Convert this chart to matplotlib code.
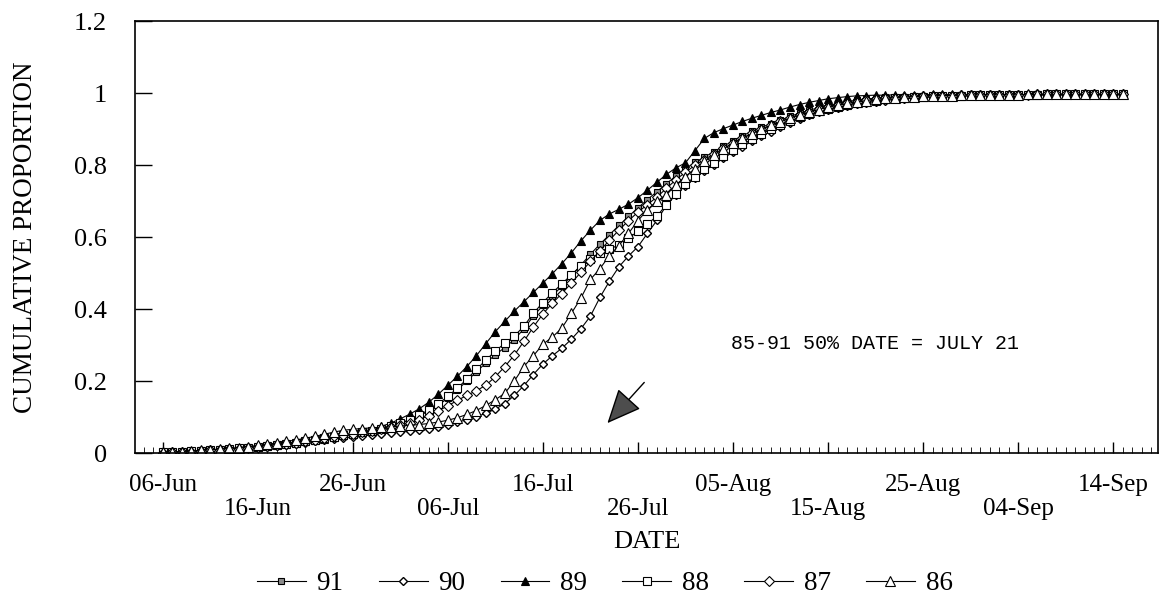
import numpy as np
import matplotlib
matplotlib.use("Agg")
import matplotlib.pyplot as plt
import matplotlib.dates as mdates
from datetime import datetime

plt.rcParams['font.family'] = ['Liberation Serif', 'DejaVu Serif']

# daily cumulative proportions, 06-Jun .. 15-Sep
start = np.datetime64('1991-06-06')
days = np.arange(start, np.datetime64('1991-09-16'))

y91 = [0.002, 0.003, 0.004, 0.005, 0.007, 0.008, 0.010, 0.012, 0.014, 0.016,
       0.018, 0.021, 0.024, 0.027, 0.030, 0.033, 0.036, 0.040, 0.044, 0.048,
       0.052, 0.056, 0.061, 0.067, 0.074, 0.082, 0.092, 0.103, 0.117, 0.133,
       0.152, 0.175, 0.200, 0.225, 0.250, 0.273, 0.293, 0.315, 0.345, 0.380,
       0.410, 0.437, 0.463, 0.492, 0.522, 0.552, 0.580, 0.606, 0.632, 0.657,
       0.681, 0.704, 0.726, 0.748, 0.770, 0.790, 0.807, 0.822, 0.837, 0.852,
       0.867, 0.881, 0.894, 0.905, 0.915, 0.925, 0.935, 0.944, 0.952, 0.959,
       0.965, 0.971, 0.976, 0.980, 0.983, 0.986, 0.988, 0.989, 0.990, 0.991,
       0.992, 0.992, 0.993, 0.993, 0.994, 0.994, 0.994, 0.995, 0.995, 0.995,
       0.995, 0.995, 0.996, 0.996, 0.996, 0.996, 0.996, 0.996, 0.996, 0.996, 0.996, 0.996]

y90 = [0.001, 0.002, 0.003, 0.004, 0.005, 0.006, 0.008, 0.009, 0.011, 0.013,
       0.015, 0.017, 0.020, 0.023, 0.026, 0.029, 0.032, 0.035, 0.038, 0.041,
       0.044, 0.047, 0.050, 0.053, 0.055, 0.058, 0.060, 0.063, 0.067, 0.072,
       0.078, 0.085, 0.093, 0.101, 0.110, 0.122, 0.137, 0.160, 0.187, 0.218,
       0.247, 0.270, 0.291, 0.316, 0.345, 0.380, 0.432, 0.477, 0.517, 0.547,
       0.573, 0.610, 0.646, 0.688, 0.718, 0.743, 0.764, 0.784, 0.801, 0.819,
       0.836, 0.851, 0.866, 0.880, 0.893, 0.905, 0.917, 0.928, 0.938, 0.946,
       0.953, 0.959, 0.964, 0.969, 0.973, 0.976, 0.979, 0.982, 0.984, 0.986,
       0.988, 0.989, 0.990, 0.991, 0.992, 0.992, 0.993, 0.993, 0.994, 0.994,
       0.994, 0.995, 0.995, 0.995, 0.995, 0.995, 0.995, 0.996, 0.996, 0.996, 0.996, 0.996]

y89 = [0.002, 0.003, 0.004, 0.005, 0.006, 0.008, 0.009, 0.011, 0.013, 0.015,
       0.017, 0.020, 0.023, 0.026, 0.029, 0.032, 0.036, 0.040, 0.044, 0.049,
       0.054, 0.060, 0.066, 0.074, 0.083, 0.095, 0.108, 0.123, 0.141, 0.163,
       0.188, 0.213, 0.240, 0.270, 0.304, 0.337, 0.366, 0.394, 0.420, 0.446,
       0.472, 0.498, 0.526, 0.556, 0.589, 0.619, 0.646, 0.664, 0.677, 0.691,
       0.709, 0.730, 0.752, 0.774, 0.792, 0.806, 0.840, 0.874, 0.890, 0.901,
       0.911, 0.921, 0.930, 0.938, 0.946, 0.953, 0.961, 0.968, 0.974, 0.979,
       0.984, 0.987, 0.990, 0.992, 0.993, 0.994, 0.994, 0.995, 0.995, 0.995,
       0.995, 0.996, 0.996, 0.996, 0.996, 0.996, 0.996, 0.996, 0.996, 0.996,
       0.996, 0.996, 0.996, 0.996, 0.996, 0.996, 0.996, 0.996, 0.996, 0.996, 0.996, 0.996]

y88 = [0.002, 0.003, 0.004, 0.005, 0.006, 0.007, 0.009, 0.011, 0.013, 0.015,
       0.017, 0.020, 0.023, 0.026, 0.029, 0.033, 0.037, 0.041, 0.045, 0.049,
       0.053, 0.057, 0.062, 0.068, 0.075, 0.083, 0.093, 0.105, 0.120, 0.137,
       0.157, 0.180, 0.205, 0.232, 0.258, 0.283, 0.305, 0.325, 0.352, 0.388,
       0.418, 0.445, 0.470, 0.495, 0.520, 0.540, 0.555, 0.566, 0.578, 0.596,
       0.616, 0.636, 0.658, 0.690, 0.720, 0.746, 0.768, 0.788, 0.806, 0.824,
       0.841, 0.857, 0.872, 0.886, 0.899, 0.911, 0.922, 0.932, 0.941, 0.949,
       0.956, 0.962, 0.967, 0.972, 0.976, 0.979, 0.982, 0.985, 0.987, 0.989,
       0.990, 0.991, 0.992, 0.993, 0.993, 0.994, 0.994, 0.994, 0.995, 0.995,
       0.995, 0.995, 0.995, 0.996, 0.996, 0.996, 0.996, 0.996, 0.996, 0.996, 0.996, 0.996]

y87 = [0.001, 0.002, 0.003, 0.004, 0.005, 0.007, 0.008, 0.010, 0.012, 0.014,
       0.016, 0.019, 0.022, 0.025, 0.029, 0.033, 0.037, 0.041, 0.046, 0.050,
       0.054, 0.058, 0.062, 0.066, 0.071, 0.077, 0.084, 0.093, 0.104, 0.117,
       0.131, 0.146, 0.160, 0.173, 0.188, 0.212, 0.240, 0.272, 0.310, 0.350,
       0.386, 0.416, 0.443, 0.472, 0.502, 0.532, 0.562, 0.591, 0.619, 0.645,
       0.669, 0.690, 0.711, 0.735, 0.759, 0.780, 0.799, 0.815, 0.831, 0.846,
       0.861, 0.875, 0.888, 0.900, 0.911, 0.921, 0.931, 0.940, 0.948, 0.955,
       0.962, 0.967, 0.972, 0.976, 0.980, 0.983, 0.985, 0.987, 0.989, 0.990,
       0.991, 0.992, 0.993, 0.993, 0.994, 0.994, 0.994, 0.995, 0.995, 0.995,
       0.995, 0.995, 0.996, 0.996, 0.996, 0.996, 0.996, 0.996, 0.996, 0.996, 0.996, 0.996]

y86 = [0.002, 0.003, 0.004, 0.005, 0.007, 0.009, 0.011, 0.013, 0.015, 0.018,
       0.021, 0.024, 0.028, 0.032, 0.036, 0.041, 0.046, 0.052, 0.058, 0.063,
       0.066, 0.068, 0.070, 0.071, 0.073, 0.075, 0.077, 0.079, 0.082, 0.086,
       0.091, 0.098, 0.107, 0.118, 0.132, 0.148, 0.166, 0.200, 0.240, 0.270,
       0.302, 0.322, 0.347, 0.388, 0.430, 0.482, 0.512, 0.548, 0.576, 0.610,
       0.645, 0.676, 0.700, 0.717, 0.745, 0.768, 0.790, 0.810, 0.828, 0.845,
       0.860, 0.874, 0.887, 0.899, 0.910, 0.920, 0.930, 0.939, 0.947, 0.954,
       0.961, 0.966, 0.971, 0.975, 0.979, 0.982, 0.985, 0.987, 0.989, 0.990,
       0.991, 0.992, 0.993, 0.993, 0.994, 0.994, 0.995, 0.995, 0.995, 0.995,
       0.995, 0.996, 0.996, 0.996, 0.996, 0.996, 0.996, 0.996, 0.996, 0.996, 0.996, 0.996]

series_labels = ['91', '90', '89', '88', '87', '86']
tick_dates = ['1991-06-06', '1991-06-16', '1991-06-26', '1991-07-06', '1991-07-16', '1991-07-26',
              '1991-08-05', '1991-08-15', '1991-08-25', '1991-09-04', '1991-09-14']
tick_labels = ['06-Jun', '16-Jun', '26-Jun', '06-Jul', '16-Jul', '26-Jul',
               '05-Aug', '15-Aug', '25-Aug', '04-Sep', '14-Sep']

styles = {
    '91': dict(marker='s', ms=4.5, mfc='0.55', mec='black', mew=0.8),
    '90': dict(marker='D', ms=3.8, mfc='white', mec='black', mew=1.0),
    '89': dict(marker='^', ms=5.5, mfc='black', mec='black', mew=0.8),
    '88': dict(marker='s', ms=6, mfc='white', mec='black', mew=0.8),
    '87': dict(marker='D', ms=4.8, mfc='white', mec='black', mew=0.8),
    '86': dict(marker='^', ms=6.5, mfc='white', mec='black', mew=0.8),
}

fig = plt.figure(figsize=(11.63, 6.0), dpi=100)
ax = fig.add_axes([0.116, 0.245, 0.880, 0.720])

for lab, vals in zip(series_labels, [y91, y90, y89, y88, y87, y86]):
    ax.plot(days, vals, color='black', lw=0.8, label=lab, **styles[lab])

ax.set_ylim(0, 1.2)
ax.set_yticks([0, 0.2, 0.4, 0.6, 0.8, 1.0, 1.2])
ax.set_yticklabels(['0', '0.2', '0.4', '0.6', '0.8', '1', '1.2'])
ax.set_xlim(mdates.date2num(datetime(1991, 6, 3, 2)), mdates.date2num(datetime(1991, 9, 18, 18)))

tdates = [np.datetime64(t) for t in tick_dates]
ax.set_xticks(tdates)
ax.set_xticklabels([l if i % 2 == 0 else '\n' + l for i, l in enumerate(tick_labels)], linespacing=1.15)
ax.xaxis.set_minor_locator(mdates.DayLocator())

ax.tick_params(axis='y', direction='in', length=12, width=1, labelsize=19, pad=20)
ax.tick_params(axis='x', which='major', direction='in', length=8, width=1, labelsize=18, pad=15)
ax.tick_params(axis='x', which='minor', direction='in', length=4, width=0.6)
for s in ax.spines.values():
    s.set_linewidth(1.2)

ax.set_ylabel('CUMULATIVE PROPORTION', fontsize=19.5, labelpad=26)
ax.set_xlabel('DATE', fontsize=19, labelpad=8)

ax.text(mdates.date2num(datetime(1991, 8, 19, 23)), 0.305, '85-91 50% DATE = JULY 21',
        family='Liberation Mono', fontsize=14.4, ha='center', va='center')

ax.annotate('', xy=(mdates.date2num(datetime(1991, 7, 22, 19)), 0.083),
            xytext=(mdates.date2num(datetime(1991, 7, 26, 16)), 0.196),
            arrowprops=dict(arrowstyle='-|>,head_length=0.9,head_width=0.4',
                            color='black', fc='0.3', lw=1, mutation_scale=24,
                            shrinkA=0, shrinkB=0))

fig.legend(loc='center', bbox_to_anchor=(0.52, 0.027), ncol=6, frameon=False,
           fontsize=19.5, handlelength=1.8, handletextpad=0.4, columnspacing=1.3)

fig.savefig('out.png', dpi=100)
